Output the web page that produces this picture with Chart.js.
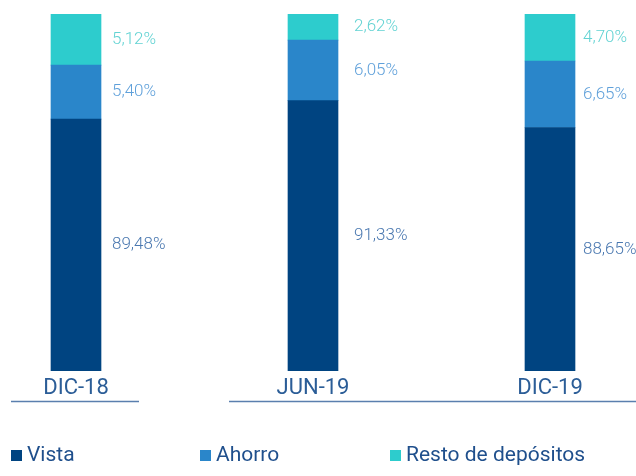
<!DOCTYPE html>
<html>
<head>
<meta charset="utf-8">
<script src="https://cdn.jsdelivr.net/npm/chart.js@4.4.1/dist/chart.umd.min.js"></script>
<style>
  html, body { margin: 0; padding: 0; background: #fff; }
  #wrap { width: 636px; height: 476px; }
</style>
</head>
<body>
<div id="wrap"><canvas id="chart" width="636" height="476"></canvas></div>
<script>
// Periods and deposit mix (%)
const periods = ["DIC-18", "JUN-19", "DIC-19"];
const vista = [89.48, 91.33, 88.65];
const ahorro = [5.40, 6.05, 6.65];
const resto = [5.12, 2.62, 4.70];

const FONT = "Roboto, 'Open Sans', sans-serif";

// Label colours per series, and small horizontal nudges per bar
const labelColors = ["#4a78b0", "#5fa0da", "#63d3d3"];
const labelOffsets = [11, 16, 8];

function fmt(v) {
  return v.toFixed(2).replace(".", ",") + "%";
}

// Draws the % labels to the right of each stacked segment
const segmentLabels = {
  id: "segmentLabels",
  afterDatasetsDraw(chart) {
    const ctx = chart.ctx;
    const area = chart.chartArea;
    ctx.save();
    ctx.font = "300 17px " + FONT;
    ctx.textAlign = "left";
    ctx.textBaseline = "middle";
    chart.data.datasets.forEach((ds, di) => {
      const meta = chart.getDatasetMeta(di);
      meta.data.forEach((bar, i) => {
        const top = Math.max(Math.min(bar.y, bar.base), area.top);
        const bottom = Math.min(Math.max(bar.y, bar.base), area.bottom);
        ctx.fillStyle = labelColors[di];
        ctx.fillText(fmt(ds.data[i]), bar.x + bar.width / 2 + labelOffsets[i], (top + bottom) / 2);
      });
    });
    ctx.restore();
  }
};

// Category labels under the bars plus the underline rules
const categoryAxis = {
  id: "categoryAxis",
  afterDraw(chart) {
    const ctx = chart.ctx;
    const x = chart.scales.x;
    ctx.save();
    ctx.font = "22px " + FONT;
    ctx.fillStyle = "#2b5d97";
    ctx.textAlign = "center";
    ctx.textBaseline = "middle";
    periods.forEach((p, i) => {
      ctx.fillText(p, x.getPixelForValue(i), 388);
    });
    ctx.strokeStyle = "#5a7fae";
    ctx.lineWidth = 1.5;
    ctx.beginPath();
    ctx.moveTo(11, 401.5);
    ctx.lineTo(139, 401.5);
    ctx.moveTo(229, 401.5);
    ctx.lineTo(636, 401.5);
    ctx.stroke();
    ctx.restore();
  }
};

// Legend spread across the bottom
const bottomLegend = {
  id: "bottomLegend",
  afterDraw(chart) {
    const ctx = chart.ctx;
    const starts = [11, 200, 390];
    ctx.save();
    ctx.font = "21px " + FONT;
    ctx.textAlign = "left";
    ctx.textBaseline = "middle";
    chart.data.datasets.forEach((ds, i) => {
      ctx.fillStyle = ds.backgroundColor;
      ctx.fillRect(starts[i], 450, 11, 11);
      ctx.fillStyle = "#1f4f8c";
      ctx.fillText(ds.label, starts[i] + 16, 456);
    });
    ctx.restore();
  }
};

const ctx = document.getElementById("chart").getContext("2d");

new Chart(ctx, {
  type: "bar",
  data: {
    labels: periods,
    datasets: [
      { label: "Vista", data: vista, backgroundColor: "#004481" },
      { label: "Ahorro", data: ahorro, backgroundColor: "#2a86ca" },
      { label: "Resto de depósitos", data: resto, backgroundColor: "#2dcccd" }
    ]
  },
  options: {
    responsive: false,
    animation: false,
    events: [],
    layout: { padding: { left: 76, right: 86, top: 14, bottom: 105 } },
    datasets: {
      bar: {
        barThickness: 50,
        clip: { left: false, right: false, top: 0, bottom: 0 }
      }
    },
    scales: {
      x: { stacked: true, display: false, offset: false },
      y: { stacked: true, display: false, min: 64.3, max: 100 }
    },
    plugins: {
      legend: { display: false },
      tooltip: { enabled: false }
    }
  },
  plugins: [segmentLabels, categoryAxis, bottomLegend]
});
</script>
</body>
</html>
